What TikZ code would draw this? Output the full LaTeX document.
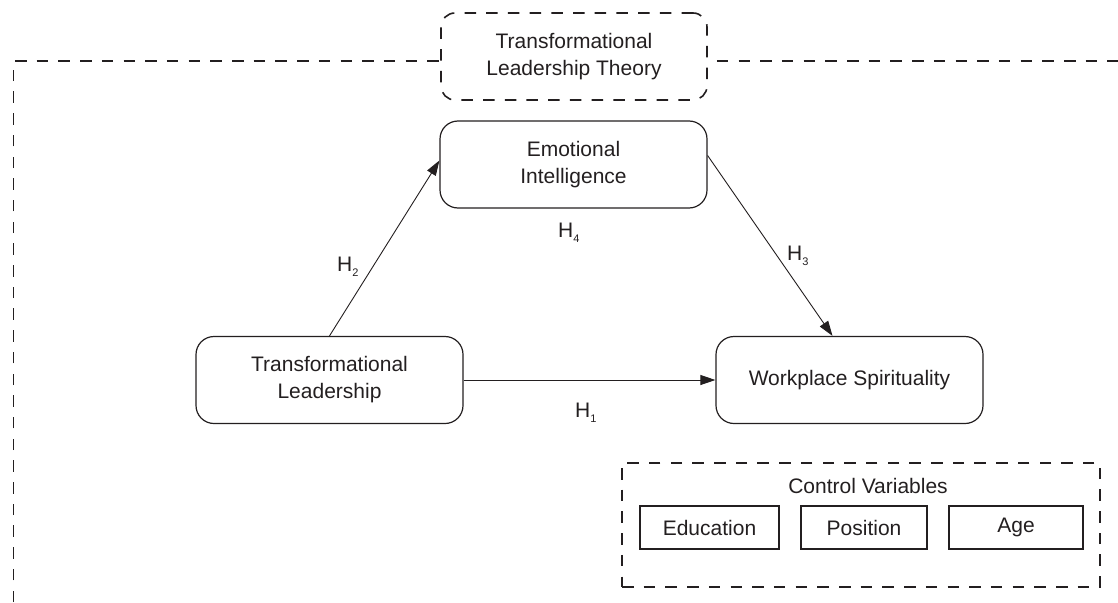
\documentclass[tikz,border=0pt]{standalone}
\usepackage{fontspec}
\setmainfont{Liberation Sans}
\usetikzlibrary{arrows.meta,calc}
\definecolor{ink}{HTML}{231F20}
\newcommand\hyp[1]{H\raisebox{-5pt}{\fontsize{11}{11}\selectfont #1}}
\begin{document}
\begin{tikzpicture}[x=1pt, y=-1pt, ink,
		txt/.style={font=\fontsize{21}{27}\selectfont},
		box/.style={txt, draw, line width=1.2pt, rounded corners=18pt, align=center, inner sep=0pt, minimum width=267pt, minimum height=87pt},
		frame/.style={line width=1.6pt, dash pattern=on 11.5pt off 10.2pt},
		item/.style={txt, draw, line width=1.2pt, inner sep=0pt, minimum height=43pt},
		hyp/.style={line width=0.9pt, -{Triangle[length=15pt, width=10pt]}},
		lbl/.style={txt, anchor=base west, inner sep=0pt}]
		\useasboundingbox (0,0) rectangle (1118,602);
		% theory and outer frame
		\node[box, frame, rounded corners=14pt, minimum width=266pt] (theory) at (574,56.5) {Transformational\\Leadership Theory};
		\coordinate (ftop) at (13.5,61);
		\coordinate (fbot) at (13.5,602);
		\coordinate (fend) at (1118,61);
		\draw[frame] (fbot) -- (ftop) -- (theory.west |- ftop);
		\draw[frame] ($(theory.east |- ftop)+(9,0)$) -- (fend);
		% constructs
		\node[box] (ei) at (573.5,164.5) {Emotional\\Intelligence};
		\node[box] (tl) at (329.5,380) {Transformational\\Leadership};
		\node[box] (ws) at (849.5,380) {Workplace Spirituality};
		\draw[hyp] (tl.east) -- (ws.west);
		\draw[hyp] (tl.north) -- ($(ei.west)+(0,-4)$);
		\draw[hyp] ($(ei.east)+(0,-9)$) -- ($(ws.north)+(-17,0)$);
		\node[lbl] (h1) at (575,417) {\hyp{1}};
		\node[lbl] (h2) at (337,271) {\hyp{2}};
		\node[lbl] (h3) at (787,260) {\hyp{3}};
		\node[lbl] (h4) at (558,237) {\hyp{4}};
		% control variables
		\node[frame, draw, minimum width=478pt, minimum height=124pt] (ctrl) at (861,525) {};
		\node[txt, anchor=base] (ctrllbl) at (868,493) {Control Variables};
		\foreach \name/\lab/\x/\w in {edu/Education/709.5/139, pos/Position/864/126, age/Age/1016/134}
			\node[item, minimum width=\w pt] (\name) at (\x,527.5) {\lab};
	\end{tikzpicture}
\end{document}
